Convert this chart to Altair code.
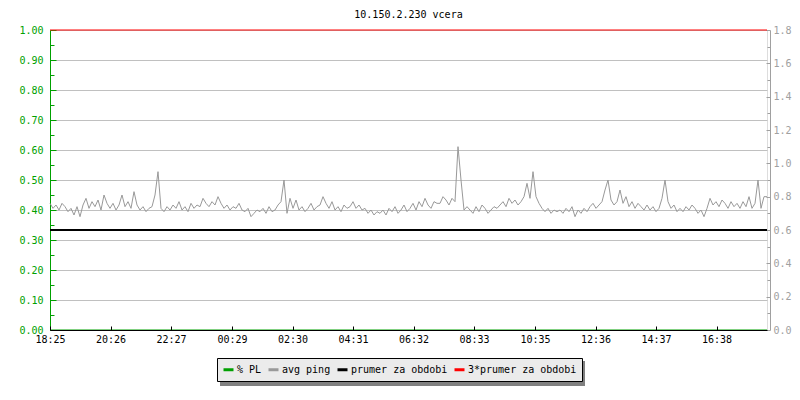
import altair as alt
import pandas as pd

FONT = "DejaVu Sans Mono"
GREEN = "#00a000"
GREY_AXIS = "#a0a0a0"
GRID = "#c0c0c0"

TITLE = "10.150.2.230 vcera"
tick_labels = ["18:25", "20:26", "22:27", "00:29", "02:30", "04:31",
               "06:32", "08:33", "10:35", "12:36", "14:37", "16:38"]
series_names = ["% PL", "avg ping", "prumer za obdobi", "3*prumer za obdobi"]
series_colors = ["#00a000", "#999999", "#000000", "#ff0000"]

# avg ping (ms, right axis), one reading every 6 minutes from 18:25
sample_step_min = 6
ping_ms = [
    0.76, 0.73, 0.75, 0.72, 0.76, 0.74, 0.71, 0.73, 0.69, 0.74,
    0.68, 0.75, 0.79, 0.73, 0.77, 0.74, 0.78, 0.72, 0.81, 0.76,
    0.73, 0.76, 0.72, 0.75, 0.81, 0.74, 0.77, 0.73, 0.83, 0.75,
    0.72, 0.74, 0.71, 0.73, 0.74, 0.81, 0.95, 0.73, 0.71, 0.74,
    0.72, 0.75, 0.73, 0.77, 0.72, 0.74, 0.71, 0.76, 0.73, 0.75,
    0.74, 0.79, 0.76, 0.74, 0.77, 0.75, 0.80, 0.76, 0.73, 0.75,
    0.72, 0.74, 0.73, 0.76, 0.72, 0.71, 0.73, 0.68, 0.70, 0.72,
    0.71, 0.73, 0.70, 0.74, 0.71, 0.72, 0.75, 0.77, 0.90, 0.70,
    0.79, 0.73, 0.78, 0.72, 0.74, 0.71, 0.73, 0.76, 0.72, 0.74,
    0.75, 0.80, 0.76, 0.73, 0.77, 0.72, 0.74, 0.71, 0.75, 0.73,
    0.74, 0.77, 0.73, 0.75, 0.72, 0.73, 0.70, 0.72, 0.69, 0.71,
    0.70, 0.72, 0.69, 0.73, 0.71, 0.74, 0.70, 0.72, 0.75, 0.71,
    0.73, 0.76, 0.72, 0.77, 0.74, 0.79, 0.75, 0.73, 0.77, 0.76,
    0.76, 0.80, 0.78, 0.75, 0.79, 0.77, 1.10, 0.90, 0.72, 0.74,
    0.72, 0.70, 0.74, 0.71, 0.75, 0.73, 0.70, 0.72, 0.74, 0.73,
    0.75, 0.77, 0.74, 0.79, 0.76, 0.78, 0.75, 0.77, 0.80, 0.88,
    0.79, 0.95, 0.80, 0.76, 0.73, 0.71, 0.73, 0.70, 0.72, 0.71,
    0.72, 0.70, 0.73, 0.71, 0.74, 0.68, 0.72, 0.70, 0.73, 0.71,
    0.74, 0.76, 0.73, 0.75, 0.77, 0.84, 0.90, 0.78, 0.75, 0.77,
    0.84, 0.76, 0.80, 0.74, 0.77, 0.73, 0.76, 0.74, 0.72, 0.75,
    0.72, 0.74, 0.71, 0.73, 0.79, 0.90, 0.77, 0.73, 0.75, 0.71,
    0.73, 0.71, 0.74, 0.72, 0.75, 0.73, 0.70, 0.72, 0.68, 0.73,
    0.79, 0.75, 0.77, 0.74, 0.78, 0.76, 0.73, 0.77, 0.74, 0.76,
    0.73, 0.77, 0.74, 0.80, 0.73, 0.76, 0.90, 0.73, 0.80, 0.80,
]
pl_times = [0, 1434]
pl_values = [0.0, 0.0]
avg_ms = 0.60
avg3_ms = 1.80

left_major = [0.0, 0.1, 0.2, 0.3, 0.4, 0.5, 0.6, 0.7, 0.8, 0.9, 1.0]
left_minor = [0.05, 0.15, 0.25, 0.35, 0.45, 0.55, 0.65, 0.75, 0.85, 0.95]
right_major = [0.0, 0.2, 0.4, 0.6, 0.8, 1.0, 1.2, 1.4, 1.6, 1.8]
right_minor = [0.1, 0.3, 0.5, 0.7, 0.9, 1.1, 1.3, 1.5, 1.7]

start_min = 18 * 60 + 25
tick_minutes = [((int(s[:2]) * 60 + int(s[3:])) - start_min) % 1440 for s in tick_labels]
label_expr = "[" + ",".join("'%s'" % s for s in tick_labels) + "][indexof([" + \
    ",".join(str(m) for m in tick_minutes) + "], datum.value)]"

ping_df = pd.DataFrame({
    "t": [i * sample_step_min for i in range(len(ping_ms))],
    "ms": ping_ms,
    "series": "avg ping",
})
pl_df = pd.DataFrame({"t": pl_times, "v": pl_values, "series": "% PL"})
avg_df = pd.DataFrame({"ms": [avg_ms], "series": ["prumer za obdobi"]})
avg3_df = pd.DataFrame({"ms": [avg3_ms], "series": ["3*prumer za obdobi"]})

x_scale = alt.Scale(domain=[0, 1434], nice=False, zero=False)
pl_scale = alt.Scale(domain=[0, 1], nice=False, zero=True)
ms_scale = alt.Scale(domain=[0, 1.8], nice=False, zero=True)

color = alt.Color(
    "series:N",
    scale=alt.Scale(domain=series_names, range=series_colors),
    legend=alt.Legend(
        orient="none", legendX=167, legendY=328, direction="horizontal",
        title=None, fillColor="#ebebeb", strokeColor="black", padding=5,
        symbolType="stroke", symbolSize=100, symbolStrokeWidth=3,
        labelFont=FONT, labelFontSize=10, labelColor="black",
        labelOffset=2, columnPadding=0, zindex=1,
    ),
)

pl = alt.Chart(pl_df).mark_line(strokeWidth=1).encode(
    x=alt.X("t:Q", scale=x_scale, axis=alt.Axis(
        orient="bottom", values=tick_minutes, labelExpr=label_expr, ticks=False,
        domainColor="black", labelColor="black", labelFont=FONT, labelFontSize=10,
        labelPadding=4, grid=False, title=None, zindex=1, labelFlush=False,
        labelOverlap=False)),
    y=alt.Y("v:Q", scale=pl_scale, axis=alt.Axis(
        orient="left", values=left_major, format=".2f", ticks=False,
        domainColor=GREEN, labelColor=GREEN, labelFont=FONT, labelFontSize=10,
        grid=True, gridColor=GRID, labelPadding=7, title=None, labelFlush=False,
        labelOverlap=False)),
    color=color,
)

pl_tk = alt.Chart(pl_df).mark_line(opacity=0).encode(
    x=alt.X("t:Q", scale=x_scale, axis=alt.Axis(
        orient="bottom", offset=-4, values=tick_minutes, tickSize=4, tickColor="black",
        labels=False, domain=False, grid=False, title=None, zindex=1)),
    y=alt.Y("v:Q", scale=pl_scale, axis=alt.Axis(
        orient="left", offset=-6, values=left_major, tickSize=6, tickColor=GREEN,
        labels=False, domain=False, grid=False, title=None)),
)

pl_mn = alt.Chart(pl_df).mark_line(opacity=0).encode(
    x=alt.X("t:Q", scale=x_scale, axis=None),
    y=alt.Y("v:Q", scale=pl_scale, axis=alt.Axis(
        orient="left", offset=-4, values=left_minor, tickSize=4, tickColor=GREEN,
        labels=False, domain=False, grid=False, title=None)),
)

ping = alt.Chart(ping_df).mark_line(strokeWidth=1).encode(
    x=alt.X("t:Q", scale=x_scale, axis=None),
    y=alt.Y("ms:Q", scale=ms_scale, axis=alt.Axis(
        orient="right", offset=3, values=right_major, format=".1f", ticks=False,
        domainColor=GREY_AXIS, labelColor=GREY_AXIS, labelFont=FONT, labelFontSize=10,
        labelPadding=3, grid=False, title=None, labelFlush=False, labelOverlap=False)),
    color=color,
)

ping_tk = alt.Chart(ping_df).mark_line(opacity=0).encode(
    x=alt.X("t:Q", scale=x_scale, axis=None),
    y=alt.Y("ms:Q", scale=ms_scale, axis=alt.Axis(
        orient="right", offset=-1, values=right_major, tickSize=4, tickColor=GREY_AXIS,
        labels=False, domain=False, grid=False, title=None)),
)

ping_mn = alt.Chart(ping_df).mark_line(opacity=0).encode(
    x=alt.X("t:Q", scale=x_scale, axis=None),
    y=alt.Y("ms:Q", scale=ms_scale, axis=alt.Axis(
        orient="right", offset=0, values=right_minor, tickSize=3, tickColor=GREY_AXIS,
        labels=False, domain=False, grid=False, title=None)),
)

avg = alt.Chart(avg_df).mark_rule(strokeWidth=2).encode(
    y=alt.Y("ms:Q", scale=ms_scale, axis=None),
    color=color,
)
avg3 = alt.Chart(avg3_df).mark_rule(strokeWidth=1).encode(
    y=alt.Y("ms:Q", scale=ms_scale, axis=None),
    color=color,
)

shadow = alt.Chart(pd.DataFrame({"k": [0]})).mark_rect(color="#808080").encode(
    x=alt.value(170), x2=alt.value(535), y=alt.value(331), y2=alt.value(356),
)

chart = alt.layer(
    shadow, pl, pl_tk, pl_mn, ping, ping_tk, ping_mn, avg, avg3
).resolve_scale(
    y="independent"
).resolve_axis(
    y="independent", x="independent"
).properties(
    width=717, height=300,
    autosize=alt.AutoSizeParams(type="none"),
    padding={"left": 42, "top": 22, "right": 25, "bottom": 70},
    title=alt.TitleParams(TITLE, font=FONT, fontSize=10, fontWeight="normal",
                          color="black", anchor="middle", offset=5),
).configure_view(stroke=None).configure(background="white")

chart.save("out.html", embed_options={"renderer": "svg", "actions": False})
